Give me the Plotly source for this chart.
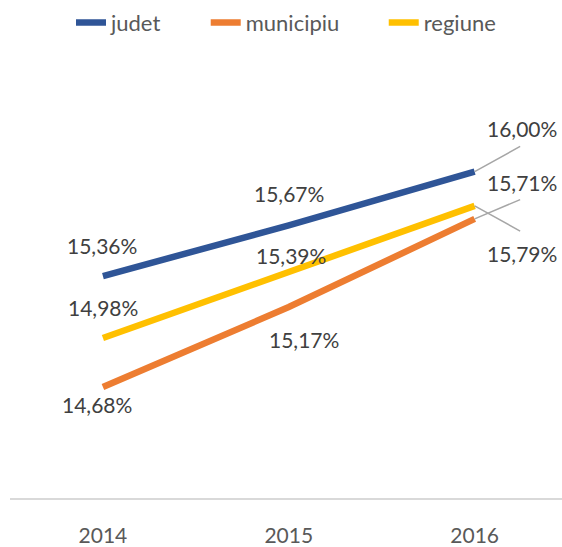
import plotly.graph_objects as go

years = ["2014", "2015", "2016"]
judet = [15.36, 15.67, 16.00]
municipiu = [14.68, 15.17, 15.71]
regiune = [14.98, 15.39, 15.79]

series = [
    ("judet", judet, "#2F5597"),
    ("municipiu", municipiu, "#ED7D31"),
    ("regiune", regiune, "#FFC000"),
]

# label pixel offsets (xshift, yshift) per series per point
label_offsets = {
    "judet": [(-1, 31), (0, 32), (47, 43)],
    "municipiu": [(-6, -17), (15, -32), (47, 36)],
    "regiune": [(0, 31), (2, 16), (47, -48)],
}
# leader line offsets for last point (ax, ay) in pixels
leader = {"judet": (47, -26), "municipiu": (47, -20), "regiune": (47, 26)}

FONT = "Lato"
NBSP = "\u00a0"
fig = go.Figure()
for k, (name, vals, col) in enumerate(series):
    pad = NBSP * 7 if k < len(series) - 1 else ""
    fig.add_trace(go.Scatter(x=years, y=vals, mode="lines", name=name + pad,
                             line=dict(color=col, width=6.5)))

ann = []
for name, vals, col in series:
    for i, v in enumerate(vals):
        dx, dy = label_offsets[name][i]
        ann.append(dict(x=i, y=v, xref="x", yref="y", showarrow=False,
                        text=f"{v:.2f}%".replace(".", ","),
                        xshift=dx, yshift=dy,
                        font=dict(family=FONT, size=21, color="#404040")))
    ax, ay = leader[name]
    last = len(vals) - 1
    ann.append(dict(x=last, y=vals[last], xref="x", yref="y", text=" ",
                    font=dict(size=1),
                    showarrow=True, arrowhead=0, arrowwidth=1.5,
                    arrowcolor="#A6A6A6", ax=ax, ay=ay, standoff=0))

fig.update_layout(
    width=562, height=547,
    margin=dict(l=10, r=0, t=90, b=44),
    paper_bgcolor="white", plot_bgcolor="white",
    showlegend=True,
    legend=dict(orientation="h", x=0.5, xanchor="center", y=1.165, yanchor="middle",
                font=dict(family=FONT, size=22, color="#595959"),
                itemwidth=30, tracegroupgap=0),
    annotations=ann,
    xaxis=dict(type="category", range=[-0.5, 2.47], showgrid=False,
               showline=True, linecolor="#D9D9D9", linewidth=1.5,
               ticks="", ticklabelstandoff=18,
               tickfont=dict(family=FONT, size=21, color="#595959"),
               zeroline=False),
    yaxis=dict(range=[14.0, 16.5], showgrid=False, showticklabels=False,
               zeroline=False, showline=False),
)
fig.write_html("out.html", config={"displayModeBar": False},
               post_script="document.body.style.margin='0';document.body.style.overflow='hidden';")
